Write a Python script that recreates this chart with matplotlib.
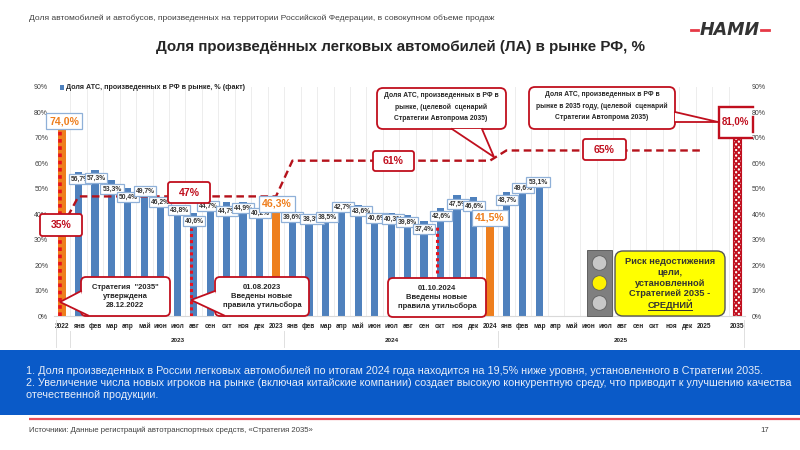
import matplotlib
matplotlib.use("Agg")
import matplotlib.pyplot as plt
from matplotlib.patches import FancyBboxPatch, Rectangle, Circle, Polygon
from matplotlib.transforms import blended_transform_factory

plt.rcParams['font.family'] = ['Liberation Sans', 'DejaVu Sans']
plt.rcParams['hatch.linewidth'] = 1.3

months = ['янв','фев','мар','апр','май','июн','июл','авг','сен','окт','ноя','дек']
categories = ['2022'] + months + ['2023'] + months + ['2024'] + months + ['2025', '', '2035']
fact = [74.0, 56.7, 57.3, 53.3, 50.4, 49.7, 46.2, 43.8, 40.6, 44.7, 44.7, 44.9, 40.2, 46.3,
        39.6, 38.3, 38.5, 42.7, 43.6, 40.6, 40.3, 39.8, 37.4, 42.6, 47.5, 46.6, 41.5,
        48.7, 49.6, 53.1]
target_years = [35] + [47]*13 + [61]*13 + [65]*13
target_2035 = 81.0
yticks = list(range(0, 100, 10))

# layout only: label centres in picture pixels
label_x = [64,80,96,112,128,145,160,179,194,208,227,243,260,277,292,312,327,343,361,377,393,407,424,441,458,474,490,507,523,538]
label_y = [121,179,178,189,197,191,202,210,221,206,211,208,213,204,217,219,217,207,211,218,219,222,229,216,204,206,218,200,188,182]

BLUE = '#4F81BD'; ORANGE = '#EE7F1E'; RED = '#C00F1E'; DRED = '#B5121B'; TXT = '#262626'
W, H = 800, 450
L, R, T, B = 53.8, 745.0, 86.7, 316.3

fig = plt.figure(figsize=(8, 4.5), dpi=100, facecolor='white')
ov = fig.add_axes([0, 0, 1, 1], zorder=5)
ov.set_xlim(0, W); ov.set_ylim(H, 0); ov.axis('off'); ov.patch.set_alpha(0)
ax = fig.add_axes([L/W, 1-B/H, (R-L)/W, (B-T)/H], zorder=2)
ax.set_xlim(-0.5, 41.5); ax.set_ylim(0, 90)
ax.patch.set_alpha(0)

colors = [ORANGE if c in ('2022', '2023', '2024') else BLUE for c in categories[:len(fact)]]
ax.bar(range(len(fact)), fact, width=0.44, color=colors, zorder=2, label='Доля АТС, произведенных в РФ в рынке, % (факт)')
ax.bar([41], [target_2035], width=0.46, facecolor='white', edgecolor=RED, hatch='xxxxxx', linewidth=0.8, zorder=2)
ax.plot(range(len(target_years)), target_years, color=DRED, lw=1.7, dashes=(3.2, 1.9), zorder=3)
ax.vlines([-0.12], 0, 74, color='#E8121E', lw=2.6, linestyles=[(0, (1, 1))], zorder=3)
ax.vlines([7.85], 0, 34.5, color='#E8121E', lw=2.2, linestyles=[(0, (1, 1))], zorder=3)
ax.vlines([22.8], 16.9, 35.6, color='#E8121E', lw=2.2, linestyles=[(0, (1, 1))], zorder=3)

for s in ('top', 'left', 'right'):
    ax.spines[s].set_visible(False)
ax.spines['bottom'].set_color('#D9D9D9')
ax.set_axisbelow(True)
ax.set_xticks([i + 0.5 for i in range(41)], minor=True)
ax.grid(True, which='minor', axis='x', color='#EDEDED', lw=0.7)
ax.tick_params(axis='x', which='minor', length=0)
ax.set_xticks(range(len(categories)))
ax.set_xticklabels(categories, fontsize=4.7, fontweight='bold', color=TXT)
ax.tick_params(axis='x', which='major', length=0, pad=4.5)
ax.set_yticks(yticks)
ax.set_yticklabels([f'{v}%' for v in yticks], fontsize=5, color='#404040')
ax.tick_params(axis='y', length=0, pad=4)
axr = ax.twinx()
axr.set_ylim(0, 90); axr.set_yticks(yticks)
axr.set_yticklabels([f'{v}%' for v in yticks], fontsize=5, color='#404040')
axr.tick_params(axis='y', length=0, pad=5)
for s in axr.spines.values():
    s.set_visible(False)

# year grouping below the axis
tr = blended_transform_factory(ax.transData, ov.transData)
for xs in (0.5, 13.5, 26.5):
    ax.plot([xs, xs], [331, 347], transform=tr, color='#E0E0E0', lw=0.7, clip_on=False)
ov.plot([56, 56], [320, 347], color='#E0E0E0', lw=0.7)
ov.plot([744, 744], [320, 347], color='#E0E0E0', lw=0.7)
for txt, px in (('2023', 178), ('2024', 392), ('2025', 621)):
    ov.text(px, 341, txt, fontsize=4.6, fontweight='bold', color=TXT, ha='center', va='center')

# data labels: later ones overlap earlier ones, as in the source
for i, (v, lx, ly) in enumerate(zip(fact, label_x, label_y)):
    big = categories[i] in ('2022', '2023', '2024')
    ax.annotate(f'{v:.1f}%'.replace('.', ','), xy=(i, v), xytext=(lx, ly), textcoords=ov.transData,
                ha='center', va='center', fontsize=7.6 if big else 4.9, fontweight='bold',
                color=ORANGE if big else '#333333', zorder=6 + i * 0.01 + (1 if big else 0),
                bbox=dict(boxstyle='square,pad=0.28', fc='white', ec='#8FB0D8', lw=0.9))

def rbox(x0, y0, x1, y1, fc='white', ec=RED, lw=1.3, rad=4, z=8):
    p = FancyBboxPatch((x0 + rad, y0 + rad), x1 - x0 - 2*rad, y1 - y0 - 2*rad,
                       boxstyle=f'round,pad={rad},rounding_size={rad}', fc=fc, ec=ec, lw=lw, zorder=z)
    ov.add_patch(p)

def pointer(a, tip, b, lw=1.3, z=9):
    ov.add_patch(Polygon([a, tip, b], closed=True, fc='white', ec='none', zorder=z))
    ov.plot([a[0], tip[0], b[0]], [a[1], tip[1], b[1]], color=RED, lw=lw, zorder=z + 0.1, solid_joinstyle='miter')

def big_tag(x0, y0, x1, y1, s):
    rbox(x0, y0, x1, y1, rad=2.5)
    ov.text((x0 + x1)/2, (y0 + y1)/2 + 0.3, s, color=RED, fontsize=7.6, fontweight='bold',
            ha='center', va='center', zorder=10)

big_tag(40, 214, 82, 236, '35%')
big_tag(168, 182, 210, 203, '47%')
big_tag(373, 151, 414, 171, '61%')
big_tag(583, 139, 626, 160, '65%')

def note(x, y, s, fs=5.6, weight='bold', color=TXT, ls=1.25):
    ov.text(x, y, s, fontsize=fs, fontweight=weight, color=color, ha='center', va='center',
            linespacing=ls, zorder=11)

rbox(81, 277, 170, 316, rad=5)
pointer((81, 291), (60, 302), (88, 315.4))
note(125, 296.5, 'Стратегия  "2035"\nутверждена\n28.12.2022', fs=5.5, ls=1.35)
rbox(215, 277, 309, 316, rad=5)
pointer((215, 291), (191, 300), (224, 315.4))
note(262, 296.5, '01.08.2023\nВведены новые\nправила утильсбора', fs=5.5, ls=1.35)
rbox(388, 278, 486, 317, rad=5)
note(437, 297.5, '01.10.2024\nВведены новые\nправила утильсбора', fs=5.5, ls=1.35)
rbox(377, 88, 506, 129, rad=6)
pointer((452, 129), (494, 157), (482, 129))
note(441, 107, 'Доля АТС, произведенных в РФ в\nрынке, (целевой  сценарий\nСтратегии Автопрома 2035)', fs=4.9, ls=1.75)
rbox(529, 87, 675, 129, rad=6)
pointer((675, 112), (718, 122), (675, 122))
note(602, 106, 'Доля АТС, произведенных в РФ в\nрынке в 2035 году, (целевой  сценарий\nСтратегии Автопрома 2035)', fs=4.9, ls=1.75)

# 81 % frame
ov.add_patch(Rectangle((719, 107), 31, 31, fc='white', ec='none', zorder=8))
for xs, ys, in (([753, 719, 719, 752], [106.5, 106.5, 137.5, 137.5]), ([752.5, 752.5], [117, 132])):
    ov.plot(xs, ys, color=RED, lw=1.7, zorder=9, solid_joinstyle='miter')
note(735, 122, f'{target_2035:.1f}%'.replace('.', ','), fs=7, color=RED)

# traffic light and risk box
ov.add_patch(Rectangle((587, 250), 25, 66, fc='#7F7F7F', ec='#5F5F5F', lw=0.7, zorder=8))
for cy, col in ((263, '#C8C8C8'), (283, '#FFF200'), (303, '#C8C8C8')):
    ov.add_patch(Circle((599.5, cy), 7.3, fc=col, ec='#606060', lw=0.6, zorder=9))
rbox(615, 251, 725, 316, fc='#FFFF00', ec='#555555', lw=1.0, rad=8)
risk = ['Риск недостижения', 'цели,', 'установленной', 'Стратегией 2035 -', 'СРЕДНИЙ']
for s, y in zip(risk, (261.5, 272.5, 283, 294, 305)):
    ov.text(670, y, s, fontsize=6.7, fontweight='bold', color='#333333', ha='center', va='center', zorder=11)
ov.plot([648, 692], [310.3, 310.3], color='#333333', lw=0.7, zorder=11)

# legend
ov.add_patch(Rectangle((59.5, 85), 4.5, 4.5, fc=BLUE, ec='none', zorder=8))
ov.text(66, 87.3, 'Доля АТС, произведенных в РФ в рынке, % (факт)', fontsize=5.15, fontweight='bold',
        color=TXT, ha='left', va='center', zorder=8)

# slide furniture
ov.text(29, 18, 'Доля автомобилей и автобусов, произведенных на территории Российской Федерации, в совокупном объеме продаж',
        fontsize=6.05, color='#404040', ha='left', va='center')
ov.text(400, 47, 'Доля произведённых легковых автомобилей (ЛА) в рынке РФ, %', fontsize=10.9,
        fontweight='bold', color=TXT, ha='center', va='center')
ov.text(729.5, 30, 'НАМИ', fontsize=12.6, fontweight='bold', fontstyle='italic',
        family=['DejaVu Sans'], color='#333333', ha='center', va='center')
ov.plot([691, 698], [30, 30], color='#E63946', lw=2)
ov.plot([761, 769], [30, 30], color='#E63946', lw=2)

ov.add_patch(Rectangle((0, 350), 800, 65, fc='#0A5AC8', ec='none', zorder=1))
panel = ['1. Доля произведенных в России легковых автомобилей по итогам 2024 года находится на 19,5% ниже уровня, установленного в Стратегии 2035.',
         '2. Увеличение числа новых игроков на рынке (включая китайские компании) создает высокую конкурентную среду, что приводит к улучшению качества',
         'отечественной продукции.']
rend = fig.canvas.get_renderer()
for s, y in zip(panel, (371, 383, 395)):
    t = ov.text(26, y, s, fontsize=8.4, color='#E8EEF8', ha='left', va='center', zorder=2)
    if y == 371:
        panel_fs = 8.4 * 726 / t.get_window_extent(rend).width
    t.set_fontsize(panel_fs)
ov.plot([29, 800], [419, 419], color='#E8505B', lw=1.6, solid_capstyle='butt')
ov.text(29, 430, 'Источники: Данные регистраций автотранспортных средств, «Стратегия 2035»', fontsize=5.6,
        color='#404040', ha='left', va='center')
ov.text(765, 430, '17', fontsize=5.6, color='#404040', ha='center', va='center')

fig.savefig('out.png', dpi=100, facecolor='white')
